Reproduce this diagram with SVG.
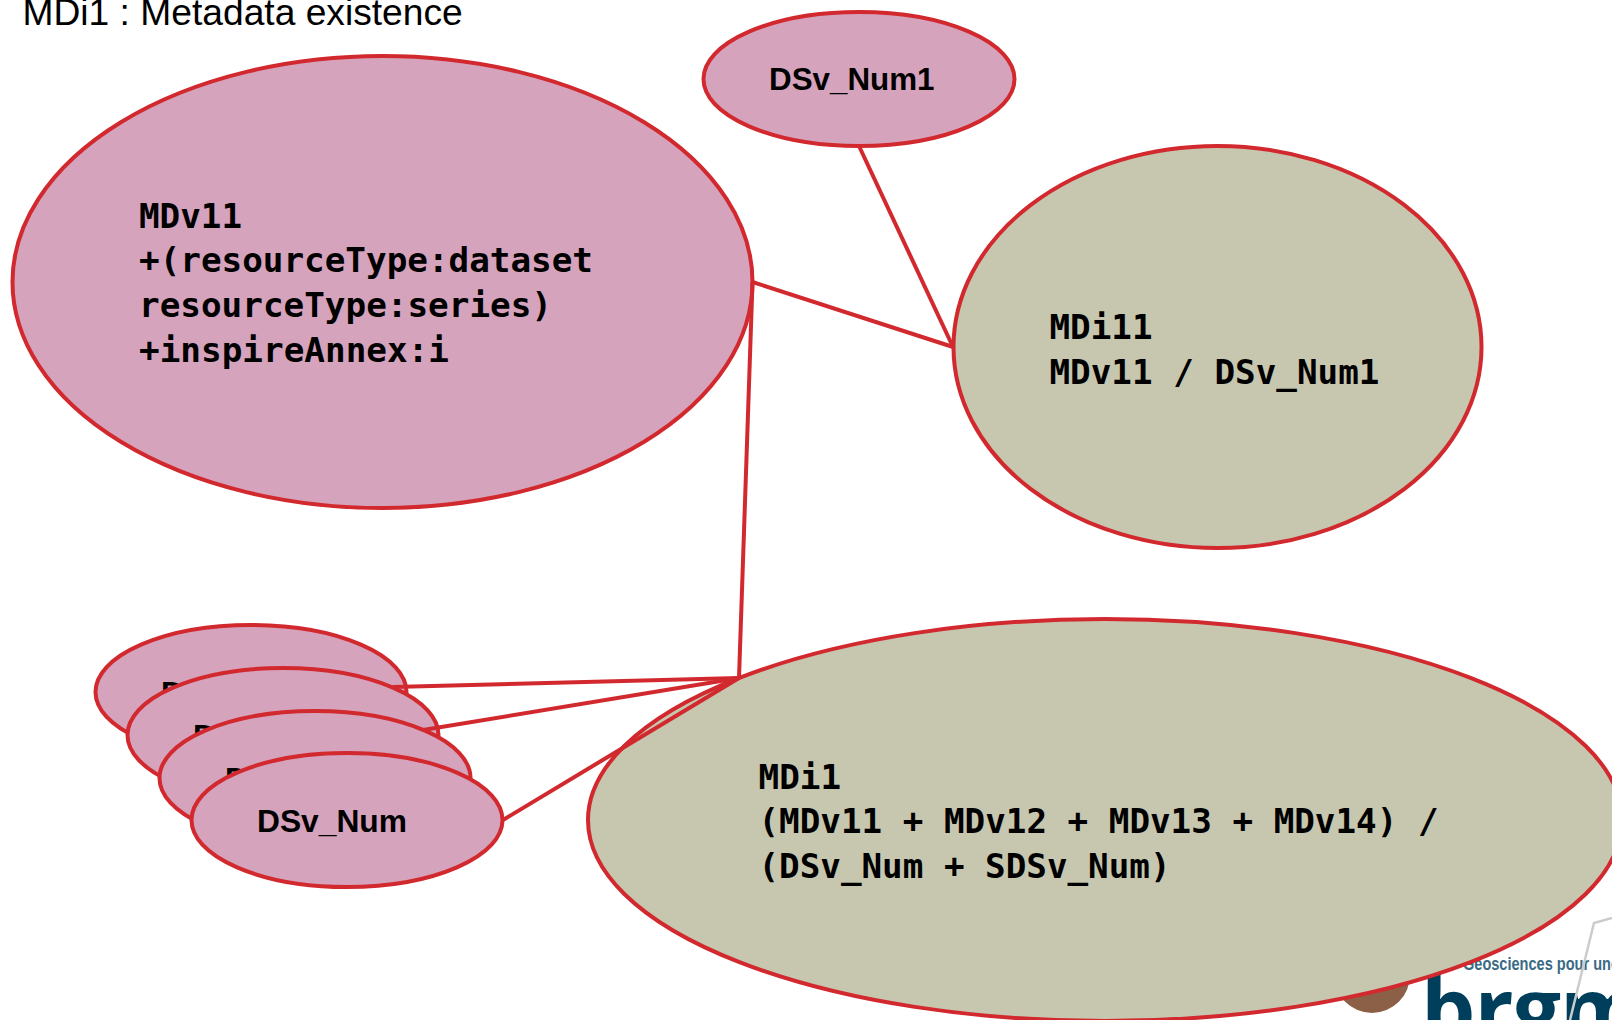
<svg xmlns="http://www.w3.org/2000/svg" width="1612" height="1020" viewBox="0 0 1612 1020">
<style>
.pink{fill:#d6a3bc;stroke:#d2292f;stroke-width:4}
.olive{fill:#c7c7af;stroke:#d2292f;stroke-width:4}
.mono{font-family:"DejaVu Sans Mono","Liberation Mono",monospace;font-weight:700;font-size:33px;fill:#000}
.lab{font-family:"Liberation Sans",Arial,sans-serif;font-weight:700;font-size:31.5px;fill:#000}
.conn line{stroke:#d2292f;stroke-width:4;fill:none}
</style>
<rect width="1612" height="1020" fill="#fff"/>
<text id="title" x="22.5" y="24.5" font-family="'Liberation Sans',Arial,sans-serif" font-size="37.2" fill="#000">MDi1 : Metadata existence</text>
<g id="logo">
<circle cx="1372" cy="975" r="38" fill="#8c5f47"/>
<text x="1463" y="970" font-family="'Liberation Sans',Arial,sans-serif" font-weight="700" font-size="19" fill="#3a6a85" textLength="156" lengthAdjust="spacingAndGlyphs">Géosciences pour une</text>
<text x="1421" y="1040" font-family="'Open Sans',sans-serif" font-weight="700" font-size="86" letter-spacing="-1" fill="#003f5c">brgm</text>
<polyline points="1612,918 1594,923 1570,1020" fill="none" stroke="#cccccc" stroke-width="2.5"/>
</g>
<g id="node-MDv11">
<ellipse class="pink" cx="382.5" cy="282" rx="370" ry="226"/>
<text class="mono" x="139" y="227.5" textLength="103" lengthAdjust="spacingAndGlyphs">MDv11</text>
<text class="mono" x="139" y="272" textLength="454" lengthAdjust="spacingAndGlyphs">+(resourceType:dataset</text>
<text class="mono" x="139" y="316.5" textLength="413" lengthAdjust="spacingAndGlyphs">resourceType:series)</text>
<text class="mono" x="139" y="361.5" textLength="310" lengthAdjust="spacingAndGlyphs">+inspireAnnex:i</text>
</g>
<g id="node-DSv_Num1">
<ellipse class="pink" cx="859" cy="79" rx="155.5" ry="67"/>
<text class="lab" x="769" y="90" textLength="165.5" lengthAdjust="spacingAndGlyphs">DSv_Num1</text>
</g>
<g id="node-MDi11">
<ellipse class="olive" cx="1217.5" cy="347" rx="264" ry="201"/>
<text class="mono" x="1049.5" y="338.5" textLength="103" lengthAdjust="spacingAndGlyphs">MDi11</text>
<text class="mono" x="1049.5" y="383.5" textLength="330" lengthAdjust="spacingAndGlyphs">MDv11 / DSv_Num1</text>
</g>
<g id="node-stack1">
<ellipse class="pink" cx="251" cy="692" rx="155.5" ry="67"/>
<text class="lab" x="161" y="704">D</text>
</g>
<g id="node-stack2">
<ellipse class="pink" cx="283" cy="735" rx="155.5" ry="67"/>
<text class="lab" x="193" y="747">D</text>
</g>
<g id="node-stack3">
<ellipse class="pink" cx="315" cy="778" rx="155.5" ry="67"/>
<text class="lab" x="225" y="790">D</text>
</g>
<g id="node-DSv_Num">
<ellipse class="pink" cx="347" cy="820" rx="155.5" ry="67"/>
<text class="lab" x="257" y="831.5" textLength="150" lengthAdjust="spacingAndGlyphs">DSv_Num</text>
</g>
<g id="node-MDi1">
<ellipse class="olive" cx="1105" cy="820" rx="517" ry="201"/>
<text class="mono" x="758.5" y="789" textLength="82.6" lengthAdjust="spacingAndGlyphs">MDi1</text>
<text class="mono" x="758.5" y="833" textLength="680" lengthAdjust="spacingAndGlyphs">(MDv11 + MDv12 + MDv13 + MDv14) /</text>
<text class="mono" x="758.5" y="878" textLength="412" lengthAdjust="spacingAndGlyphs">(DSv_Num + SDSv_Num)</text>
</g>
<g id="connectors" class="conn">
<line x1="752.5" y1="282" x2="953" y2="347"/>
<line x1="859" y1="146" x2="953" y2="347"/>
<line x1="752.5" y1="282" x2="739" y2="678"/>
<line x1="393" y1="687" x2="739" y2="678"/>
<line x1="423" y1="730" x2="739" y2="678"/>
<line x1="503" y1="820" x2="739" y2="678"/>
</g>
</svg>
